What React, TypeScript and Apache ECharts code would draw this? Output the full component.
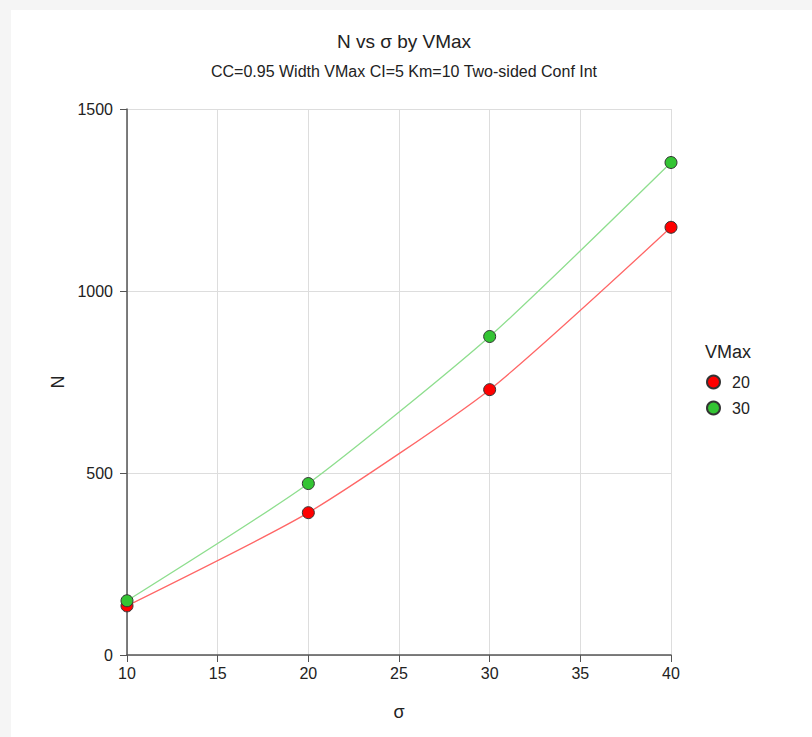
import React, { useEffect, useRef } from "react";
import * as echarts from "echarts";

const sigma = [10, 20, 30, 40];
const vmax20 = [135, 391, 729, 1175];
const vmax30 = [149, 471, 875, 1353];
const seriesNames = ["20", "30"];
const titleText = "N vs σ by VMax";
const subtitleText = "CC=0.95 Width VMax CI=5 Km=10 Two-sided Conf Int";

const FONT = "Liberation Sans, Arial, sans-serif";

export default function App() {
  const ref = useRef<HTMLDivElement>(null);
  useEffect(() => {
    if (!ref.current) return;
    const chart = echarts.init(ref.current, undefined, { renderer: "svg" });
    const mk = (name: string, vals: number[], fill: string, line: string) => ({
      name,
      type: "line",
      data: sigma.map((s, i) => [s, vals[i]]),
      smooth: 0.2,
      symbol: "circle",
      symbolSize: 12,
      showSymbol: true,
      lineStyle: { color: line, width: 1.3 },
      itemStyle: { color: fill, borderColor: "#333", borderWidth: 1 },
      emphasis: { disabled: true },
    });
    chart.setOption({
      animation: false,
      backgroundColor: "transparent",
      textStyle: { fontFamily: FONT },
      title: [
        {
          text: titleText,
          left: 399,
          top: 27,
          textAlign: "center",
          textStyle: { fontSize: 19, fontWeight: "normal", color: "#222", fontFamily: FONT },
        },
        {
          text: subtitleText,
          left: 399,
          top: 58,
          textAlign: "center",
          textStyle: { fontSize: 16, fontWeight: "normal", color: "#222", fontFamily: FONT },
        },
      ],
      legend: {
        orient: "vertical",
        left: 701,
        top: 369,
        itemWidth: 13,
        itemHeight: 13,
        itemGap: 10,
        icon: "circle",
        data: seriesNames,
        textStyle: { fontSize: 16, color: "#222", fontFamily: FONT, padding: [0, 0, 0, 7] },
      },
      graphic: [
        {
          type: "text",
          left: 705,
          top: 343,
          style: { text: "VMax", fontSize: 18, fill: "#222", fontFamily: FONT },
        },
      ],
      grid: { left: 127, right: 141, top: 109, bottom: 82, containLabel: false },
      xAxis: {
        type: "value",
        min: 10,
        max: 40,
        interval: 5,
        name: "σ",
        nameLocation: "middle",
        nameGap: 48,
        nameTextStyle: { fontSize: 18, color: "#222", fontFamily: FONT },
        axisLine: { show: true, lineStyle: { color: "#555", width: 1.5 } },
        axisTick: { show: true, length: 7, lineStyle: { color: "#555" } },
        axisLabel: { fontSize: 16, color: "#222", margin: 10, fontFamily: FONT },
        splitLine: { show: true, lineStyle: { color: "#ddd", width: 1 } },
      },
      yAxis: {
        type: "value",
        min: 0,
        max: 1500,
        interval: 500,
        name: "N",
        nameLocation: "middle",
        nameGap: 55,
        nameRotate: 90,
        nameTextStyle: { fontSize: 18, color: "#222", fontFamily: FONT },
        axisLine: { show: true, lineStyle: { color: "#555", width: 1.5 } },
        axisTick: { show: true, length: 7, lineStyle: { color: "#555" } },
        axisLabel: {
          fontSize: 16,
          color: "#222",
          margin: 14,
          fontFamily: FONT,
          formatter: (v: number) => String(v),
        },
        splitLine: { show: true, lineStyle: { color: "#ddd", width: 1 } },
      },
      series: [
        mk(seriesNames[0], vmax20, "#ff0000", "#ff6666"),
        mk(seriesNames[1], vmax30, "#33c433", "#8ede8e"),
      ],
    });
    return () => chart.dispose();
  }, []);
  return (
    <div
      style={{
        position: "absolute",
        left: 0,
        top: 0,
        width: 812,
        height: 737,
        background: "#f5f5f5",
        overflow: "hidden",
      }}
    >
      <div
        style={{
          position: "absolute",
          left: 11,
          top: 10,
          width: 801,
          height: 727,
          background: "#ffffff",
        }}
      />
      <div
        ref={ref}
        style={{ position: "absolute", left: 0, top: 0, width: 812, height: 737 }}
      />
    </div>
  );
}
